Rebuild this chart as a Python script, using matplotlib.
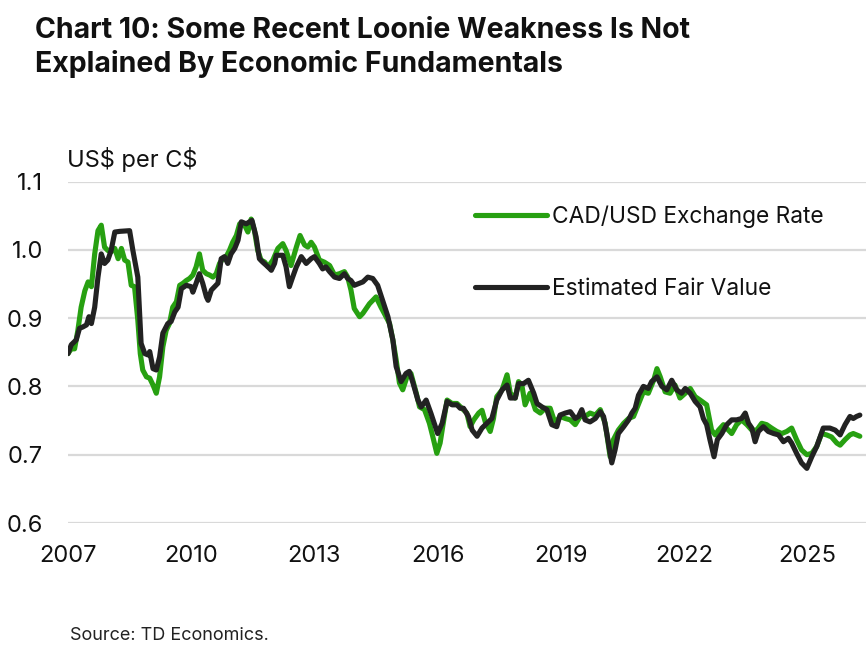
"""
 Chart 10: CAD/USD vs estimated fair value
"""
import matplotlib
matplotlib.use('Agg')
import matplotlib.pyplot as plt
import numpy as np

plt.rcParams['font.family'] = ['Inter', 'DejaVu Sans']

# CAD/USD 汇率
fx_year = [2007.00, 2007.08, 2007.16, 2007.24, 2007.32, 2007.41, 2007.49, 2007.57, 2007.65, 2007.73,
           2007.81, 2007.89, 2007.97, 2008.05, 2008.14, 2008.22, 2008.30, 2008.38, 2008.46, 2008.54,
           2008.62, 2008.70, 2008.76, 2008.82, 2008.91, 2008.99, 2009.07, 2009.15, 2009.23, 2009.31,
           2009.39, 2009.47, 2009.55, 2009.64, 2009.72, 2009.80, 2009.88, 2009.96, 2010.04, 2010.12,
           2010.20, 2010.28, 2010.37, 2010.45, 2010.53, 2010.61, 2010.69, 2010.77, 2010.85, 2010.93,
           2011.01, 2011.10, 2011.18, 2011.30, 2011.38, 2011.46, 2011.54, 2011.62, 2011.70, 2011.79,
           2011.87, 2011.99, 2012.11, 2012.23, 2012.31, 2012.43, 2012.56, 2012.65, 2012.76, 2012.84,
           2012.92, 2013.00, 2013.12, 2013.24, 2013.37, 2013.49, 2013.61, 2013.73, 2013.81, 2013.89,
           2013.97, 2014.10, 2014.18, 2014.34, 2014.50, 2014.62, 2014.70, 2014.83, 2014.91, 2014.99,
           2015.07, 2015.15, 2015.27, 2015.35, 2015.48, 2015.56, 2015.68, 2015.80, 2015.88, 2015.98,
           2016.06, 2016.15, 2016.23, 2016.35, 2016.47, 2016.59, 2016.71, 2016.79, 2016.88, 2017.00,
           2017.08, 2017.16, 2017.28, 2017.36, 2017.44, 2017.57, 2017.69, 2017.77, 2017.89, 2017.97,
           2018.05, 2018.13, 2018.25, 2018.38, 2018.50, 2018.62, 2018.74, 2018.86, 2018.98, 2019.11,
           2019.23, 2019.35, 2019.47, 2019.59, 2019.71, 2019.84, 2019.96, 2020.08, 2020.20, 2020.28,
           2020.40, 2020.53, 2020.65, 2020.77, 2020.85, 2021.01, 2021.13, 2021.26, 2021.34, 2021.42,
           2021.54, 2021.66, 2021.78, 2021.90, 2022.03, 2022.15, 2022.27, 2022.39, 2022.55, 2022.67,
           2022.76, 2022.84, 2022.96, 2023.08, 2023.16, 2023.28, 2023.40, 2023.53, 2023.65, 2023.77,
           2023.89, 2024.01, 2024.13, 2024.26, 2024.38, 2024.50, 2024.62, 2024.74, 2024.86, 2024.99,
           2025.11, 2025.23, 2025.35, 2025.47, 2025.59, 2025.72, 2025.80, 2025.92, 2026.04, 2026.12,
           2026.28]
fx_rate = [0.848, 0.855, 0.855, 0.882, 0.916, 0.940, 0.953, 0.946, 0.994, 1.028,
           1.036, 1.004, 0.999, 0.997, 1.002, 0.987, 1.002, 0.985, 0.982, 0.948,
           0.946, 0.897, 0.848, 0.824, 0.814, 0.812, 0.802, 0.790, 0.814, 0.858,
           0.882, 0.892, 0.916, 0.924, 0.948, 0.951, 0.955, 0.958, 0.963, 0.975,
           0.994, 0.970, 0.965, 0.963, 0.960, 0.965, 0.980, 0.987, 0.990, 0.999,
           1.011, 1.021, 1.038, 1.036, 1.026, 1.045, 1.028, 0.999, 0.985, 0.982,
           0.975, 0.985, 1.002, 1.009, 0.999, 0.977, 1.004, 1.021, 1.007, 1.004,
           1.011, 1.004, 0.985, 0.982, 0.977, 0.963, 0.965, 0.968, 0.960, 0.941,
           0.914, 0.902, 0.907, 0.921, 0.931, 0.916, 0.907, 0.892, 0.868, 0.839,
           0.805, 0.795, 0.817, 0.819, 0.790, 0.770, 0.766, 0.746, 0.727, 0.702,
           0.717, 0.751, 0.780, 0.775, 0.775, 0.768, 0.761, 0.741, 0.751, 0.761,
           0.765, 0.748, 0.734, 0.753, 0.785, 0.795, 0.817, 0.790, 0.783, 0.807,
           0.802, 0.773, 0.790, 0.766, 0.761, 0.768, 0.768, 0.746, 0.756, 0.753,
           0.751, 0.744, 0.756, 0.756, 0.761, 0.758, 0.766, 0.746, 0.697, 0.722,
           0.736, 0.746, 0.753, 0.756, 0.768, 0.792, 0.790, 0.809, 0.826, 0.814,
           0.792, 0.790, 0.802, 0.783, 0.790, 0.797, 0.785, 0.780, 0.773, 0.736,
           0.729, 0.736, 0.744, 0.736, 0.731, 0.744, 0.751, 0.744, 0.736, 0.736,
           0.746, 0.744, 0.739, 0.734, 0.731, 0.734, 0.739, 0.722, 0.707, 0.700,
           0.702, 0.712, 0.731, 0.729, 0.726, 0.717, 0.714, 0.722, 0.729, 0.731,
           0.727]

# 估计公允价值
fv_year = [2007.00, 2007.08, 2007.20, 2007.28, 2007.36, 2007.45, 2007.51, 2007.57, 2007.65, 2007.73,
           2007.81, 2007.89, 2007.97, 2008.05, 2008.14, 2008.26, 2008.50, 2008.58, 2008.70, 2008.74,
           2008.78, 2008.87, 2008.95, 2008.99, 2009.07, 2009.15, 2009.23, 2009.31, 2009.43, 2009.51,
           2009.60, 2009.68, 2009.76, 2009.88, 2010.00, 2010.04, 2010.12, 2010.20, 2010.28, 2010.37,
           2010.41, 2010.49, 2010.57, 2010.65, 2010.73, 2010.81, 2010.89, 2010.97, 2011.06, 2011.14,
           2011.22, 2011.34, 2011.42, 2011.48, 2011.58, 2011.66, 2011.74, 2011.87, 2011.95, 2012.03,
           2012.07, 2012.23, 2012.31, 2012.39, 2012.47, 2012.56, 2012.68, 2012.80, 2012.92, 2013.00,
           2013.12, 2013.20, 2013.28, 2013.37, 2013.49, 2013.61, 2013.73, 2013.81, 2013.89, 2013.97,
           2014.10, 2014.18, 2014.30, 2014.42, 2014.54, 2014.66, 2014.79, 2014.91, 2014.99, 2015.11,
           2015.23, 2015.31, 2015.39, 2015.52, 2015.60, 2015.72, 2015.84, 2016.00, 2016.11, 2016.23,
           2016.35, 2016.47, 2016.55, 2016.63, 2016.75, 2016.84, 2016.96, 2017.08, 2017.20, 2017.32,
           2017.44, 2017.57, 2017.69, 2017.77, 2017.89, 2017.97, 2018.09, 2018.21, 2018.34, 2018.42,
           2018.54, 2018.66, 2018.78, 2018.90, 2018.98, 2019.11, 2019.23, 2019.35, 2019.43, 2019.51,
           2019.59, 2019.71, 2019.84, 2019.96, 2020.04, 2020.12, 2020.24, 2020.32, 2020.40, 2020.53,
           2020.65, 2020.73, 2020.81, 2020.89, 2021.01, 2021.13, 2021.21, 2021.34, 2021.46, 2021.58,
           2021.70, 2021.82, 2021.94, 2022.03, 2022.15, 2022.27, 2022.39, 2022.47, 2022.55, 2022.63,
           2022.73, 2022.81, 2022.92, 2023.04, 2023.16, 2023.28, 2023.40, 2023.49, 2023.57, 2023.65,
           2023.73, 2023.81, 2023.93, 2024.05, 2024.18, 2024.30, 2024.42, 2024.54, 2024.62, 2024.74,
           2024.86, 2024.99, 2025.11, 2025.23, 2025.39, 2025.55, 2025.68, 2025.80, 2025.92, 2026.04,
           2026.12, 2026.20, 2026.28]
fv_rate = [0.848, 0.861, 0.868, 0.885, 0.887, 0.890, 0.902, 0.892, 0.916, 0.960,
           0.994, 0.980, 0.985, 0.999, 1.026, 1.027, 1.028, 0.999, 0.960, 0.912,
           0.863, 0.848, 0.846, 0.851, 0.826, 0.824, 0.843, 0.878, 0.892, 0.895,
           0.909, 0.916, 0.943, 0.948, 0.946, 0.938, 0.951, 0.965, 0.951, 0.931,
           0.926, 0.941, 0.946, 0.951, 0.987, 0.990, 0.980, 0.994, 1.002, 1.014,
           1.041, 1.038, 1.041, 1.043, 1.019, 0.987, 0.982, 0.975, 0.970, 0.980,
           0.992, 0.992, 0.975, 0.946, 0.960, 0.975, 0.990, 0.980, 0.987, 0.990,
           0.980, 0.972, 0.975, 0.968, 0.960, 0.958, 0.965, 0.958, 0.955, 0.948,
           0.951, 0.953, 0.960, 0.958, 0.948, 0.926, 0.902, 0.868, 0.829, 0.807,
           0.819, 0.822, 0.807, 0.780, 0.770, 0.780, 0.760, 0.731, 0.746, 0.778,
           0.773, 0.773, 0.768, 0.768, 0.756, 0.736, 0.727, 0.739, 0.746, 0.753,
           0.780, 0.795, 0.802, 0.783, 0.783, 0.804, 0.804, 0.809, 0.790, 0.775,
           0.770, 0.766, 0.744, 0.741, 0.758, 0.761, 0.763, 0.753, 0.756, 0.766,
           0.751, 0.748, 0.753, 0.763, 0.756, 0.731, 0.688, 0.707, 0.731, 0.741,
           0.751, 0.761, 0.768, 0.787, 0.800, 0.797, 0.807, 0.814, 0.800, 0.795,
           0.809, 0.795, 0.790, 0.797, 0.790, 0.778, 0.770, 0.753, 0.744, 0.722,
           0.697, 0.722, 0.731, 0.744, 0.751, 0.751, 0.753, 0.761, 0.746, 0.739,
           0.719, 0.734, 0.741, 0.734, 0.731, 0.729, 0.719, 0.724, 0.717, 0.702,
           0.688, 0.680, 0.697, 0.712, 0.739, 0.739, 0.736, 0.729, 0.744, 0.756,
           0.753, 0.756, 0.758]

y_ticks = [0.6, 0.7, 0.8, 0.9, 1.0, 1.1]
x_ticks = [2007, 2010, 2013, 2016, 2019, 2022, 2025]

green = '#27a011'
black = '#222222'

fig = plt.figure(figsize=(8.68, 6.48), dpi=100)
ax = fig.add_axes([68/868, 1-523/648, 798/868, 341.5/648])

ax.plot(fx_year, fx_rate, color=green, lw=3.7, label='CAD/USD Exchange Rate',
        solid_joinstyle='round', solid_capstyle='round')
ax.plot(fv_year, fv_rate, color=black, lw=3.7, label='Estimated Fair Value',
        solid_joinstyle='round', solid_capstyle='round')

ax.set_xlim(2007, 2026.43)
ax.set_ylim(0.6, 1.1)
ax.set_yticks(y_ticks)
ax.set_yticklabels([f'{v:.1f}' for v in y_ticks])
ax.set_xticks(x_ticks)
ax.set_xticklabels([str(v) for v in x_ticks])
ax.grid(axis='y', color='#d9d9d9', lw=1.6)
ax.set_axisbelow(True)
for s in ax.spines.values():
    s.set_visible(False)
ax.tick_params(axis='both', length=0, labelsize=17, colors='#111111')
ax.tick_params(axis='y', pad=18)
ax.tick_params(axis='x', pad=16)

leg = ax.legend(loc='center left', bbox_to_anchor=(0.51, 0.791), frameon=False,
                fontsize=16.4, handlelength=3.15, handletextpad=0.22,
                labelspacing=2.2, borderpad=0, borderaxespad=0)
for t in leg.get_texts():
    t.set_color('#111111')

# 标题与注释
fig.text(35/868, 1-37.5/648, 'Chart 10: Some Recent Loonie Weakness Is Not',
         fontsize=20.5, fontweight='bold', va='baseline', color='#111111')
fig.text(35/868, 1-72/648, 'Explained By Economic Fundamentals',
         fontsize=20.5, fontweight='bold', va='baseline', color='#111111')
fig.text(67/868, 1-167/648, r'US\$ per C\$', fontsize=17, va='baseline', color='#111111')
fig.text(70/868, 1-640/648, 'Source: TD Economics.', fontsize=13, va='baseline', color='#222222')

plt.savefig('out.png', dpi=100)
plt.close()
